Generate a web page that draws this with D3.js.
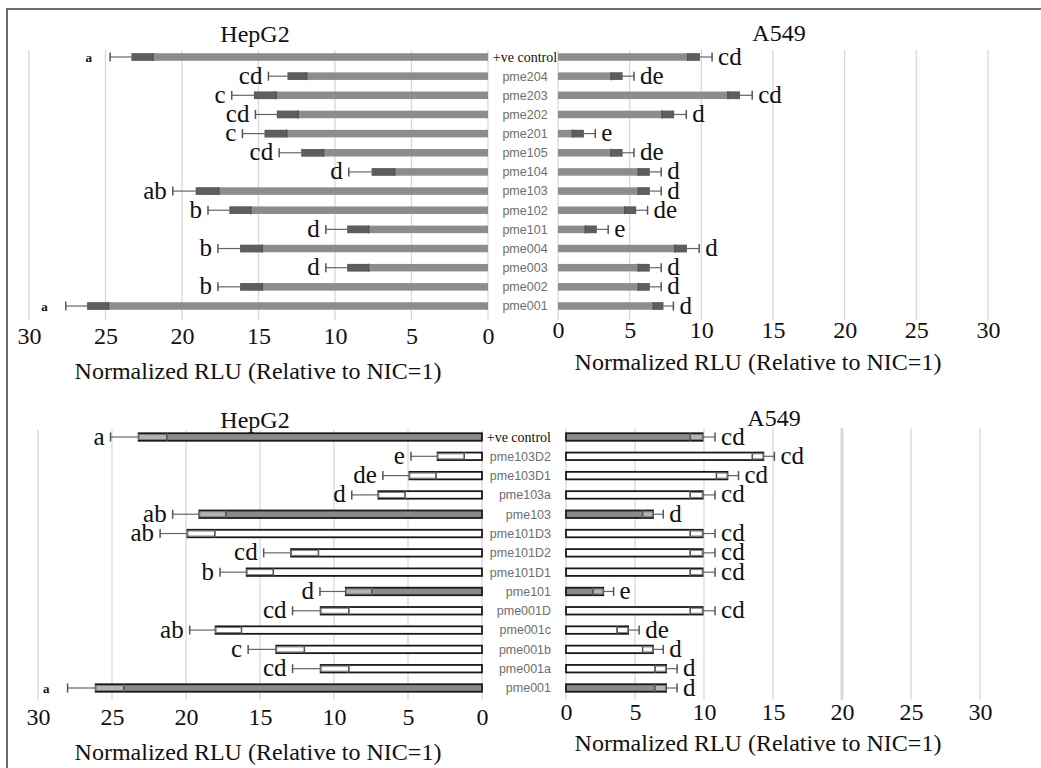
<!DOCTYPE html>
<html>
<head>
<meta charset="utf-8">
<script src="https://cdn.jsdelivr.net/npm/d3@7"></script>
<style>
  body { margin: 0; background: #fff; }
  svg { display: block; }
</style>
</head>
<body>
<svg width="1041" height="768"></svg>
<script>
// x ticks shared by all four panels
var ticks = [0, 5, 10, 15, 20, 25, 30];

// top chart
var topCats = ["+ve control", "pme204", "pme203", "pme202", "pme201", "pme105", "pme104",
  "pme103", "pme102", "pme101", "pme004", "pme003", "pme002", "pme001"];
var topHep = [23.3, 13.1, 15.3, 13.8, 14.6, 12.2, 7.6, 19.1, 16.9, 9.2, 16.2, 9.2, 16.2, 26.2];
var topHepErr = [1.4, 1.25, 1.45, 1.4, 1.45, 1.45, 1.5, 1.5, 1.4, 1.4, 1.45, 1.4, 1.45, 1.4];
var topHepSig = ["a", "cd", "c", "cd", "c", "cd", "d", "ab", "b", "d", "b", "d", "b", "a"];
var topA549 = [9.9, 4.5, 12.7, 8.1, 1.8, 4.5, 6.4, 6.4, 5.45, 2.7, 9.0, 6.4, 6.4, 7.35];
var topA549Err = [0.85, 0.8, 0.85, 0.85, 0.8, 0.8, 0.8, 0.8, 0.8, 0.8, 0.85, 0.8, 0.8, 0.7];
var topA549Sig = ["cd", "de", "cd", "d", "e", "de", "d", "d", "de", "e", "d", "d", "d", "d"];

// bottom chart
var botCats = ["+ve control", "pme103D2", "pme103D1", "pme103a", "pme103", "pme101D3", "pme101D2",
  "pme101D1", "pme101", "pme001D", "pme001c", "pme001b", "pme001a", "pme001"];
var botFilled = ["+ve control", "pme103", "pme101", "pme001"];
var botHep = [23.2, 3.0, 4.9, 7.0, 19.1, 19.9, 12.9, 15.9, 9.2, 10.9, 18.0, 13.9, 10.9, 26.1];
var botHepErr = [1.9, 1.8, 1.8, 1.8, 1.8, 1.85, 1.85, 1.8, 1.75, 1.9, 1.75, 1.9, 1.9, 1.9];
var botHepSig = ["a", "e", "de", "d", "ab", "ab", "cd", "b", "d", "cd", "ab", "c", "cd", "a"];
var botA549 = [9.9, 14.3, 11.7, 9.9, 6.3, 9.9, 9.9, 9.9, 2.7, 9.9, 4.5, 6.3, 7.25, 7.25];
var botA549Err = [0.9, 0.8, 0.8, 0.9, 0.75, 0.9, 0.9, 0.9, 0.75, 0.9, 0.8, 0.75, 0.8, 0.8];
var botA549Sig = ["cd", "cd", "cd", "cd", "d", "cd", "cd", "cd", "e", "cd", "de", "d", "d", "d"];

var axisTitle = "Normalized RLU (Relative to NIC=1)";
var serif = "'Liberation Serif', 'Times New Roman', serif";
var sans = "'Liberation Sans', Arial, sans-serif";

var svg = d3.select("svg");

// frame round the figure
svg.append("path")
    .attr("d", "M7,768 V9 H1041")
    .attr("fill", "none")
    .attr("stroke", "#6b6b6b")
    .attr("stroke-width", 2);

function panel(p) {
  var g = svg.append("g");
  var x = d3.scaleLinear().domain([0, 30]).range([p.x0, p.x30]);
  var y = d3.scalePoint().domain(p.cats).range([p.yTop, p.yBot]);
  var dir = p.x30 < p.x0 ? -1 : 1; // left panels grow to the left
  var bh = 7.5;
  var isSmall = function(d) { return p.small && p.small.indexOf(d.cat) >= 0; };

  // gridlines
  g.selectAll(".grid")
    .data(ticks)
    .enter().append("line")
      .attr("x1", function(d) { return x(d); })
      .attr("x2", function(d) { return x(d); })
      .attr("y1", p.gridTop)
      .attr("y2", p.gridBot)
      .attr("stroke", "#d9d9d9")
      .attr("stroke-width", function(d) { return p.wideGrid === d ? 3 : 1.3; });

  var rows = p.cats.map(function(c, i) {
    return {cat: c, v: p.values[i], e: p.errs[i], sig: p.sig[i]};
  });

  var row = g.selectAll(".row").data(rows).enter().append("g");

  // bars
  row.append("rect")
      .attr("x", function(d) { return Math.min(x(0), x(d.v)); })
      .attr("y", function(d) { return y(d.cat) - bh / 2; })
      .attr("width", function(d) { return Math.abs(x(d.v) - x(0)); })
      .attr("height", bh)
      .attr("fill", function(d) {
        if (!p.outlined) return "#8c8c8c";
        return botFilled.indexOf(d.cat) >= 0 ? "#8a8a8a" : "#fff";
      })
      .attr("stroke", p.outlined ? "#1a1a1a" : "none")
      .attr("stroke-width", 1.8);

  // lower half of the error bar, inside the bar
  row.append("rect")
      .attr("x", function(d) { return Math.min(x(d.v - d.e), x(d.v)); })
      .attr("y", function(d) { return y(d.cat) - (p.outlined ? 2.5 : bh / 2); })
      .attr("width", function(d) { return Math.abs(x(d.v) - x(d.v - d.e)); })
      .attr("height", p.outlined ? 5 : bh)
      .attr("fill", p.outlined ? "rgba(255,255,255,0.35)" : "#5e5e5e")
      .attr("stroke", p.outlined ? "#7a7a7a" : "none")
      .attr("stroke-width", 1);

  row.append("line")
      .attr("x1", function(d) { return x(d.v - d.e); })
      .attr("x2", function(d) { return x(d.v - d.e); })
      .attr("y1", function(d) { return y(d.cat) - 4; })
      .attr("y2", function(d) { return y(d.cat) + 4; })
      .attr("stroke", "#555")
      .attr("stroke-width", 1.5);

  // upper whisker
  row.append("line")
      .attr("x1", function(d) { return x(d.v); })
      .attr("x2", function(d) { return x(d.v + d.e); })
      .attr("y1", function(d) { return y(d.cat); })
      .attr("y2", function(d) { return y(d.cat); })
      .attr("stroke", "#666")
      .attr("stroke-width", 1.2);

  row.append("line")
      .attr("x1", function(d) { return x(d.v + d.e); })
      .attr("x2", function(d) { return x(d.v + d.e); })
      .attr("y1", function(d) { return y(d.cat) - 4.5; })
      .attr("y2", function(d) { return y(d.cat) + 4.5; })
      .attr("stroke", "#555")
      .attr("stroke-width", 1.5);

  // significance letters
  row.append("text")
      .attr("x", function(d) { return x(d.v + d.e) + dir * (isSmall(d) ? 18 : 6); })
      .attr("y", function(d) { return y(d.cat); })
      .attr("dy", function(d) { return isSmall(d) ? "0.35em" : "0.3em"; })
      .attr("text-anchor", dir < 0 ? "end" : "start")
      .style("font-family", serif)
      .style("font-size", function(d) { return (isSmall(d) ? 13 : 25) + "px"; })
      .style("font-weight", function(d) { return isSmall(d) ? "bold" : "normal"; })
      .attr("fill", "#111")
      .text(function(d) { return d.sig; });

  // x axis
  var ax = g.append("g")
      .attr("transform", "translate(0," + p.tickY + ")")
      .call(d3.axisBottom(x).tickValues(ticks).tickSize(0).tickPadding(0));
  ax.select(".domain").remove();
  ax.selectAll("text")
      .attr("y", 0)
      .attr("dy", "0.35em")
      .style("font-family", serif)
      .style("font-size", "24px")
      .attr("fill", "#111");

  g.append("text")
      .attr("x", p.axisTitleX)
      .attr("y", p.axisTitleY)
      .attr("dy", "0.35em")
      .attr("text-anchor", "middle")
      .style("font-family", serif)
      .style("font-size", "24px")
      .attr("fill", "#111")
      .text(axisTitle);

  g.append("text")
      .attr("x", p.titleX)
      .attr("y", p.titleY)
      .attr("dy", "0.35em")
      .attr("text-anchor", "middle")
      .style("font-family", serif)
      .style("font-size", "24px")
      .attr("fill", "#111")
      .text(p.title);

  return y;
}

function catLabels(cats, y, xPos, anchor) {
  svg.append("g").selectAll("text")
    .data(cats)
    .enter().append("text")
      .attr("x", xPos)
      .attr("y", function(d) { return y(d); })
      .attr("dy", "0.35em")
      .attr("text-anchor", anchor)
      .style("font-family", function(d) { return d === "+ve control" ? serif : sans; })
      .style("font-size", function(d) { return (d === "+ve control" ? 14 : 12.5) + "px"; })
      .attr("fill", function(d) { return d === "+ve control" ? "#111" : "#6e6e6e"; })
      .text(function(d) { return d; });
}

var yTop = panel({cats: topCats, values: topHep, errs: topHepErr, sig: topHepSig,
  small: ["+ve control", "pme001"],
  x0: 488, x30: 29, yTop: 57, yBot: 306, gridTop: 50, gridBot: 320,
  tickY: 336, axisTitleX: 258, axisTitleY: 371, title: "HepG2", titleX: 255, titleY: 34});
panel({cats: topCats, values: topA549, errs: topA549Err, sig: topA549Sig,
  x0: 558, x30: 988, yTop: 57, yBot: 306, gridTop: 50, gridBot: 320,
  tickY: 330, axisTitleX: 758, axisTitleY: 362, title: "A549", titleX: 779, titleY: 33});
catLabels(topCats, yTop, 525, "middle");

var yBot = panel({cats: botCats, values: botHep, errs: botHepErr, sig: botHepSig,
  small: ["pme001"], outlined: true,
  x0: 482, x30: 38, yTop: 437, yBot: 688, gridTop: 430, gridBot: 700,
  tickY: 717, axisTitleX: 258, axisTitleY: 752, title: "HepG2", titleX: 255, titleY: 420});
panel({cats: botCats, values: botA549, errs: botA549Err, sig: botA549Sig, outlined: true,
  wideGrid: 20,
  x0: 566, x30: 980, yTop: 437, yBot: 688, gridTop: 428, gridBot: 700,
  tickY: 712, axisTitleX: 758, axisTitleY: 743, title: "A549", titleX: 774, titleY: 418});
catLabels(botCats, yBot, 551, "end");
</script>
</body>
</html>
